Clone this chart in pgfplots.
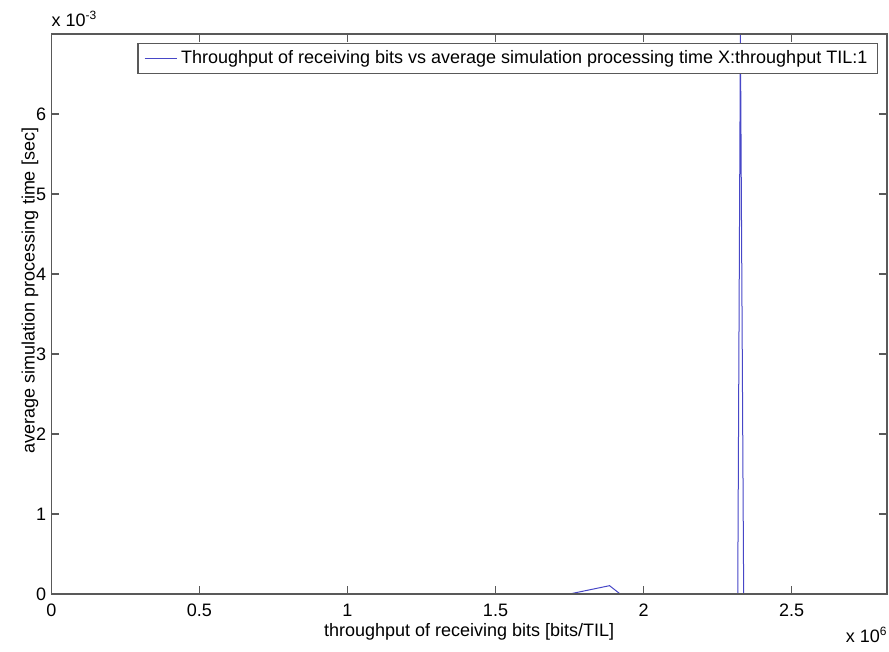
\documentclass[border=0pt]{standalone}
\usepackage{fontspec}
\setmainfont{Liberation Sans}
\usepackage{pgfplots}
\pgfplotsset{compat=1.18}
\definecolor{axc}{gray}{0.35}
\definecolor{linec}{rgb}{0.28,0.28,0.78}
\begin{document}
\begin{tikzpicture}
\begin{axis}[
  name=ax,
  scale only axis,
  width=417.85pt, height=280pt,
  xmin=0, xmax=2.822, ymin=0, ymax=7,
  xtick={0,0.5,1,1.5,2,2.5},
  xticklabels={0,0.5,1,1.5,2,2.5},
  ytick={0,1,2,3,4,5,6},
  yticklabels={0,1,2,3,4,5,6},
  scaled ticks=false,
  tick pos=both,
  tick align=inside,
  major tick length=4pt,
  axis line style={axc, line width=0.6pt},
  every tick/.style={axc, line width=0.6pt},
  axis on top,
  /pgf/number format/assume math mode=true,
  tick label style={font=\fontsize{9}{11}\selectfont},
  xticklabel style={yshift=-1.6pt},
  yticklabel style={xshift=1pt},
  xlabel={throughput of receiving bits [bits/TIL]},
  ylabel={average simulation processing time [sec]},
  label style={font=\fontsize{9}{11}\selectfont},
  xlabel style={at={(axis description cs:0.5,0)}, anchor=center, yshift=-19pt},
  ylabel style={at={(axis description cs:0,0.5)}, anchor=center, yshift=10.65pt, xshift=11.75pt},
  legend style={at={(rel axis cs:1,1)}, anchor=north east, xshift=-4.5pt, yshift=-4.35pt,
    draw=axc, line width=0.6pt, font=\fontsize{9}{11}\selectfont,
    inner xsep=3pt, inner ysep=1.5pt},
  legend cell align=left,
  legend image code/.code={\draw[linec, line width=0.5pt] (0pt,0pt) -- (16pt,0pt);},
]
\addplot[linec, line width=0.5pt] coordinates {
  (1.750,0) (1.885,0.104) (1.921,0) (2.318,0) (2.327,7.0) (2.338,0)
};
\addlegendentry{Throughput of receiving bits vs average simulation processing time X:throughput TIL:1}
\end{axis}
\node[anchor=base west, inner sep=0, font=\fontsize{9}{11}\selectfont] at ([yshift=3.5pt]ax.north west) {x 10\textsuperscript{-3}};
\node[anchor=base east, inner sep=0, font=\fontsize{9}{11}\selectfont] at ([xshift=0.5pt,yshift=-24.5pt]ax.south east) {x 10\textsuperscript{6}};
\pgfresetboundingbox
\path[use as bounding box] ([xshift=-25.65pt,yshift=-29pt]ax.south west) rectangle ([xshift=1pt,yshift=17pt]ax.north east);
\end{tikzpicture}
\end{document}
